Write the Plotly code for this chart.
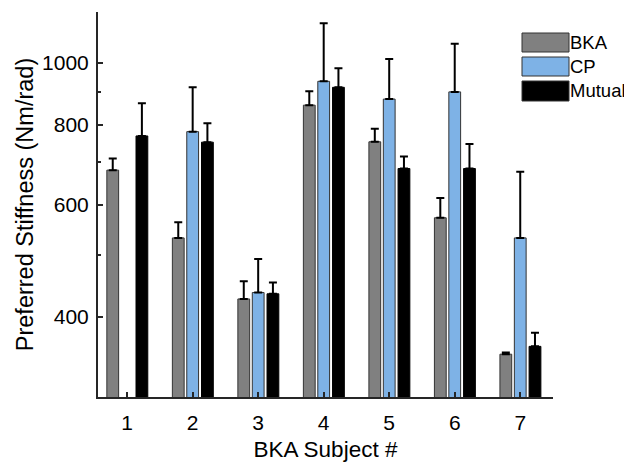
import plotly.graph_objects as go
import math

subjects = [1, 2, 3, 4, 5, 6, 7]
subject_labels = ["1", "2", "3", "4", "5", "6", "7"]

bka = [679, 532, 427, 858, 752, 572, 350]
bka_err = [29, 31, 28, 44, 36, 42, 2]
cp = [None, 780, 437, 935, 877, 900, 532]
cp_err = [None, 135, 56, 217, 136, 170, 143]
mutual = [768, 751, 435, 915, 683, 683, 360]
mutual_err = [96, 53, 18, 65, 30, 63, 18]

y_ticks = [400, 600, 800, 1000]
y_minor = [500, 700, 900]

series = [
    ("BKA", bka, bka_err, "#808080", "#333333", -0.31),
    ("CP", cp, cp_err, "#7EB2E6", "#333333", -0.09),
    ("Mutual", mutual, mutual_err, "#000000", "#000000", 0.135),
]

FONT = "Liberation Sans, Arial, Helvetica, sans-serif"
fig = go.Figure()
for name, vals, errs, color, edge, off in series:
    fig.add_trace(go.Bar(
        x=subjects, y=vals, name=name,
        width=0.18, offset=off,
        marker=dict(color=color, line=dict(color=edge, width=1)),
        error_y=dict(type="data", array=errs, arrayminus=[0] * len(errs),
                     symmetric=False, color="#000000", thickness=2, width=4),
        showlegend=False,
    ))

# page has an 8px body margin; size the figure so the plot area lands in place
PAGE_OFF = 8
W, H = 632 - PAGE_OFF, 462 - PAGE_OFF
L, R, T, B = 98 - PAGE_OFF, 79, 12 - PAGE_OFF, 65
pw, ph = W - L - R, H - T - B


def px(x):
    return (x - PAGE_OFF - L) / pw


def py(y):
    return (H - B - (y - PAGE_OFF)) / ph


# custom legend (boxes + labels) in paper coordinates
boxes = [(33, 52), (57, 76), (81, 101)]
for (name, vals, errs, color, edge, off), (y0, y1) in zip(series, boxes):
    fig.add_shape(type="rect", xref="paper", yref="paper",
                  x0=px(522), x1=px(569), y0=py(y1), y1=py(y0),
                  fillcolor=color, line=dict(color="#333333", width=1))
    fig.add_annotation(xref="paper", yref="paper", x=px(568), y=py((y0 + y1) / 2),
                       text=name, showarrow=False, xanchor="left", yanchor="middle",
                       font=dict(family=FONT, size=18.5, color="#000000"))

fig.update_layout(
    width=W, height=H,
    margin=dict(l=L, r=R, t=T, b=B, autoexpand=False),
    paper_bgcolor="white", plot_bgcolor="white",
    barmode="overlay",
    font=dict(family=FONT, size=21, color="#000000"),
)
fig.update_xaxes(
    range=[0.555, 7.5], tickmode="array", tickvals=subjects, ticktext=subject_labels,
    ticks="inside", ticklen=5, tickwidth=2, tickcolor="#262626",
    showline=True, linecolor="#262626", linewidth=2, showgrid=False, zeroline=False,
    ticklabelstandoff=6, automargin=False,
    title=dict(text="BKA Subject #", font=dict(size=22.5), standoff=9),
)
fig.update_yaxes(
    type="log", range=[math.log10(300), math.log10(1200)],
    tickmode="array", tickvals=y_ticks, ticktext=[str(v) for v in y_ticks],
    ticks="inside", ticklen=5, tickwidth=2, tickcolor="#262626",
    minor=dict(tickmode="array", tickvals=y_minor, ticks="inside", ticklen=3,
               tickwidth=2, tickcolor="#262626", showgrid=False),
    showline=True, linecolor="#262626", linewidth=2, showgrid=False, zeroline=False,
    ticklabelstandoff=3, automargin=False,
    title=dict(text="Preferred Stiffness (Nm/rad)", font=dict(size=23.5), standoff=2),
)

fig.write_html("out.html")
